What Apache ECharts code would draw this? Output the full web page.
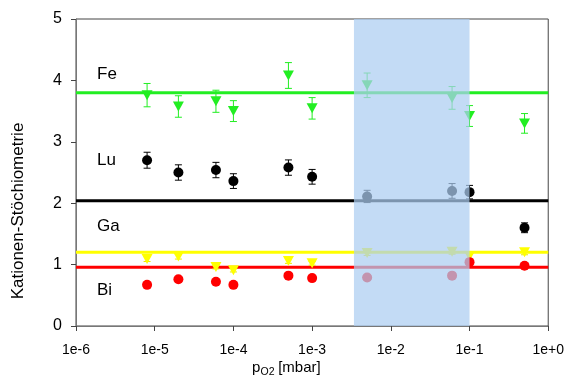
<!DOCTYPE html>
<html><head><meta charset="utf-8">
<script src="https://cdn.jsdelivr.net/npm/echarts@6/dist/echarts.min.js"></script>
<style>html,body{margin:0;padding:0;background:#fff}#c{width:567px;height:388px}</style>
</head><body><div id="c"></div>
<script>
// ---- data ----
const pO2 = [8e-6, 2e-5, 6e-5, 1e-4, 5e-4, 1e-3, 5e-3, 6e-2, 1e-1, 0.5];
const feVals = [3.76, 3.575, 3.66, 3.50, 4.08, 3.545, 3.92, 3.715, 3.42, 3.30];
const feErr  = [0.19, 0.175, 0.18, 0.17, 0.21, 0.175, 0.20, 0.185, 0.17, 0.16];
const luVals = [2.70, 2.50, 2.54, 2.36, 2.58, 2.43, 2.11, 2.20, 2.18, 1.60];
const luErr  = [0.13, 0.125, 0.125, 0.12, 0.125, 0.12, 0.10, 0.12, 0.11, 0.08];
const gaVals = [1.09, 1.13, 0.96, 0.91, 1.06, 1.02, 1.19, 1.21, 1.14, 1.20];
const gaErr  = [0.04, 0.04, 0.03, 0.03, 0.04, 0.03, 0.04, 0.04, 0.04, 0.04];
const biVals = [0.67, 0.76, 0.72, 0.67, 0.82, 0.78, 0.79, 0.82, 1.04, 0.98];
const refFe = 3.8, refLu = 2.04, refGa = 1.2, refBi = 0.955;
const shadeRange = [3.4e-3, 0.1];
const xTickLabels = ['1e-6', '1e-5', '1e-4', '1e-3', '1e-2', '1e-1', '1e+0'];
const xMin = 1e-6, xMax = 1, yMin = 0, yMax = 5;
const elementNames = ['Fe', 'Lu', 'Ga', 'Bi'];

// ---- chart ----
const chart = echarts.init(document.getElementById('c'), null, {renderer: 'canvas'});
const FONT = 'Liberation Sans, Arial, sans-serif';

function pts(vals) { return pO2.map((x, i) => [x, vals[i]]); }
function errData(vals, errs) { return pO2.map((x, i) => [x, vals[i], errs[i]]); }
function refLine(level, color) {
  return { type: 'line', data: [[xMin, level], [xMax, level]], symbol: 'none', silent: true,
    lineStyle: { color: color, width: 3 }, z: 2, animation: false };
}
function errSeries(vals, errs, color) {
  return {
    type: 'custom', z: 3, silent: true, animation: false,
    data: errData(vals, errs),
    encode: { x: 0, y: 1 },
    renderItem: function (params, api) {
      const x = api.value(0), y = api.value(1), e = api.value(2);
      const t = api.coord([x, y + e]), b = api.coord([x, y - e]);
      const h = 3.5;
      const st = { stroke: color, lineWidth: 1 };
      return { type: 'group', children: [
        { type: 'line', shape: { x1: t[0], y1: t[1], x2: b[0], y2: b[1] }, style: st },
        { type: 'line', shape: { x1: t[0] - h, y1: t[1], x2: t[0] + h, y2: t[1] }, style: st },
        { type: 'line', shape: { x1: b[0] - h, y1: b[1], x2: b[0] + h, y2: b[1] }, style: st }
      ]};
    }
  };
}
function scat(vals, color, tri) {
  return { type: 'scatter', data: pts(vals), z: 4, animation: false,
    symbol: tri ? 'triangle' : 'circle', symbolRotate: tri ? 180 : 0,
    symbolSize: tri ? [11, 10] : 10, itemStyle: { color: color, opacity: 1 } };
}

const labelPos = [[97, 75], [97, 161], [97, 227], [97, 291]];

const option = {
  animation: false,
  backgroundColor: '#fff',
  grid: { left: 76, right: 17, top: 19, bottom: 62, show: true, borderColor: '#444', borderWidth: 1, backgroundColor: 'transparent' },
  xAxis: {
    type: 'log', logBase: 10, min: xMin, max: xMax,
    splitLine: { show: false },
    axisLine: { lineStyle: { color: '#777', width: 1 } },
    axisTick: { inside: false, length: 5, lineStyle: { color: '#444' } },
    minorTick: { show: false },
    axisLabel: { margin: 17, fontSize: 14, color: '#000', fontFamily: FONT,
      formatter: v => xTickLabels[Math.round(Math.log10(v)) + 6] }
  },
  yAxis: {
    type: 'value', min: yMin, max: yMax, interval: 1,
    splitLine: { show: false },
    axisLine: { show: true, lineStyle: { color: '#777', width: 1 } },
    axisTick: { show: true, inside: false, length: 5, lineStyle: { color: '#444' } },
    axisLabel: { margin: 14, fontSize: 16, color: '#000', fontFamily: FONT }
  },
  graphic: [
    ...elementNames.map((n, i) => ({ type: 'text', left: labelPos[i][0], top: labelPos[i][1] - 9, z: 20,
      style: { text: n, fontSize: 17, fill: '#000', fontFamily: FONT } })),
    { type: 'text', x: 18, y: 211, rotation: Math.PI / 2, z: 20,
      style: { text: 'Kationen-Stöchiometrie', fontSize: 17, fill: '#000', fontFamily: FONT, align: 'center', verticalAlign: 'middle' } },
    { type: 'text', x: 252, y: 368, z: 20,
      style: { text: 'p', fontSize: 15, fill: '#000', fontFamily: FONT, align: 'left', verticalAlign: 'middle' } },
    { type: 'text', x: 260.5, y: 372.5, z: 20,
      style: { text: 'O2', fontSize: 10.5, fill: '#000', fontFamily: FONT, align: 'left', verticalAlign: 'middle' } },
    { type: 'text', x: 274, y: 368, z: 20,
      style: { text: ' [mbar]', fontSize: 15, fill: '#000', fontFamily: FONT, align: 'left', verticalAlign: 'middle' } }
  ],
  series: [
    refLine(refFe, '#22ee22'),
    refLine(refLu, '#000000'),
    refLine(refGa, '#ffff00'),
    refLine(refBi, '#ff0000'),
    errSeries(feVals, feErr, '#22ee22'),
    errSeries(luVals, luErr, '#000000'),
    errSeries(gaVals, gaErr, '#e8e800'),
    scat(feVals, '#22ee22', true),
    scat(luVals, '#000000', false),
    scat(gaVals, '#ffff00', true),
    scat(biVals, '#ff0000', false),
    { type: 'custom', z: 10, silent: true, animation: false,
      data: [[shadeRange[0], shadeRange[1]]],
      renderItem: function (params, api) {
        const a = api.coord([api.value(0), yMax]);
        const b = api.coord([api.value(1), yMin]);
        return { type: 'rect', shape: { x: a[0], y: a[1], width: b[0] - a[0], height: b[1] - a[1] },
          style: { fill: 'rgba(172,205,241,0.72)' } };
      } }
  ]
};
chart.setOption(option);
</script>
</body></html>
